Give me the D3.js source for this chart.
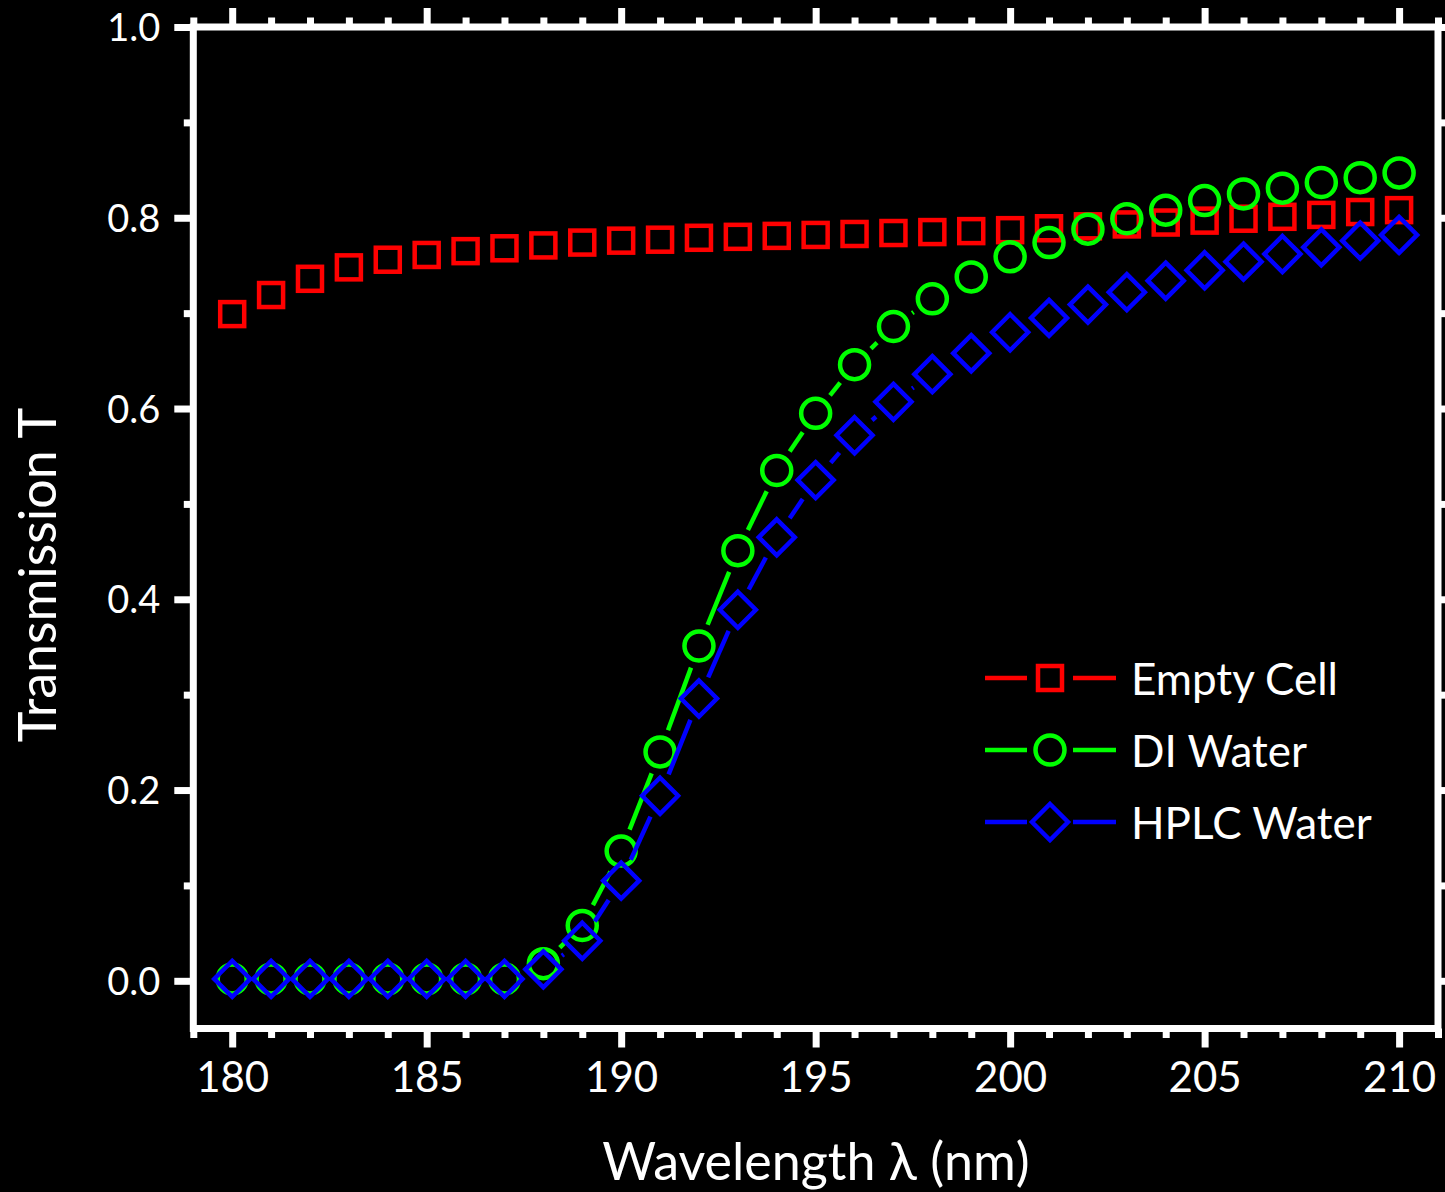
<!DOCTYPE html>
<html>
<head>
<meta charset="utf-8">
<script src="https://cdn.jsdelivr.net/npm/d3@7"></script>
<style>
  html, body { margin: 0; padding: 0; background: #000; }
  svg { display: block; }
  text { font-family: Lato, "Open Sans", sans-serif; fill: #fff; }
</style>
</head>
<body>
<script>
// Wavelength grid (nm)
const wavelength = d3.range(180, 211);

// Transmission of the empty cuvette
const emptyCell = [0.699, 0.719, 0.736, 0.748, 0.756, 0.761, 0.765, 0.768, 0.771, 0.774,
                   0.776, 0.777, 0.779, 0.780, 0.781, 0.782, 0.783, 0.784, 0.785, 0.786,
                   0.787, 0.789, 0.791, 0.793, 0.795, 0.797, 0.799, 0.801, 0.803, 0.806, 0.808];

// Transmission with deionised water
const diWater = [0.002, 0.002, 0.002, 0.002, 0.002, 0.002, 0.002, 0.002, 0.018, 0.058,
                 0.136, 0.240, 0.351, 0.451, 0.535, 0.595, 0.646, 0.686, 0.715, 0.738,
                 0.759, 0.774, 0.788, 0.799, 0.808, 0.818, 0.825, 0.831, 0.837, 0.842, 0.847];

// Transmission with HPLC-grade water
const hplcWater = [0.002, 0.002, 0.002, 0.002, 0.002, 0.002, 0.002, 0.002, 0.012, 0.042,
                   0.105, 0.194, 0.296, 0.389, 0.465, 0.525, 0.572, 0.607, 0.636, 0.658,
                   0.680, 0.695, 0.709, 0.722, 0.734, 0.745, 0.754, 0.762, 0.769, 0.776, 0.782];

const seriesNames = ["Empty Cell", "DI Water", "HPLC Water"];
const seriesColors = ["#ff0000", "#00ff00", "#0000ff"];
const seriesShapes = ["square", "circle", "diamond"];
const seriesValues = [emptyCell, diWater, hplcWater];

const xMajorTicks = [180, 185, 190, 195, 200, 205, 210];
const yMajorTicks = [0.0, 0.2, 0.4, 0.6, 0.8, 1.0];

const W = 1445, H = 1192;
const frame = { left: 193.3, right: 1438, top: 27, bottom: 1028.5 };

const svg = d3.select("body").append("svg").attr("width", W).attr("height", H);
svg.append("rect").attr("width", W).attr("height", H).attr("fill", "#000");

const x = d3.scaleLinear().domain([179, 211]).range([frame.left, frame.right]);
const y = d3.scaleLinear().domain([-0.05, 1.0]).range([frame.bottom, frame.top]);

const tickW = 7;
const majorLen = 19, minorLen = 9.5;

// Axes: outward ticks on all four sides
const xMinor = d3.range(179, 212).filter(v => !xMajorTicks.includes(v));
const yMinor = d3.range(1, 10, 2).map(v => v / 10);

function addAxis(axisFn, scale, ticks, len, transform, labels, cls) {
  const g = svg.append("g").attr("class", cls).attr("transform", transform)
    .call(axisFn(scale).tickValues(ticks).tickSize(len).tickSizeOuter(0)
      .tickPadding(labels ? 12 : 0)
      .tickFormat(labels ? labels : () => ""));
  g.select(".domain").remove();
  g.selectAll(".tick line").attr("stroke", "#fff").attr("stroke-width", tickW);
  return g;
}

const fmtY = d3.format(".1f");
// bottom
const gxb = addAxis(d3.axisBottom, x, xMajorTicks, majorLen, `translate(0,${frame.bottom})`, d => d, "xb");
addAxis(d3.axisBottom, x, xMinor, minorLen, `translate(0,${frame.bottom})`, null, "xbm");
// top
addAxis(d3.axisTop, x, xMajorTicks, majorLen, `translate(0,${frame.top})`, null, "xt");
addAxis(d3.axisTop, x, xMinor, minorLen, `translate(0,${frame.top})`, null, "xtm");
// left
const gyl = addAxis(d3.axisLeft, y, yMajorTicks, majorLen, `translate(${frame.left},0)`, fmtY, "yl");
addAxis(d3.axisLeft, y, yMinor, minorLen, `translate(${frame.left},0)`, null, "ylm");
// right
addAxis(d3.axisRight, y, yMajorTicks, majorLen, `translate(${frame.right},0)`, null, "yr");
addAxis(d3.axisRight, y, yMinor, minorLen, `translate(${frame.right},0)`, null, "yrm");

gxb.selectAll(".tick text").attr("font-size", 42).attr("fill", "#fff")
  .attr("font-family", "Lato, sans-serif").attr("dy", "0.72em").attr("y", 33);
gyl.selectAll(".tick text").attr("font-size", 38).attr("fill", "#fff")
  .attr("font-family", "Lato, sans-serif").attr("x", -33).attr("dy", "0.36em");

// Frame
svg.append("rect")
  .attr("x", frame.left).attr("y", frame.top)
  .attr("width", frame.right - frame.left).attr("height", frame.bottom - frame.top)
  .attr("fill", "none").attr("stroke", "#fff").attr("stroke-width", tickW);

// Axis titles
svg.append("text").attr("x", 816).attr("y", 1180).attr("text-anchor", "middle")
  .attr("font-size", 52).text("Wavelength \u03bb (nm)");
svg.append("text").attr("transform", "translate(56,575) rotate(-90)").attr("text-anchor", "middle")
  .attr("font-size", 52).text("Transmission T");

// Marker drawing
const markerStroke = 4.5;
function drawMarker(g, shape, cx, cy, color) {
  if (shape === "square") {
    g.append("rect").attr("x", cx - 12).attr("y", cy - 12).attr("width", 24).attr("height", 24)
      .attr("fill", "none").attr("stroke", color).attr("stroke-width", markerStroke);
  } else if (shape === "circle") {
    g.append("circle").attr("cx", cx).attr("cy", cy).attr("r", 14.5)
      .attr("fill", "none").attr("stroke", color).attr("stroke-width", markerStroke);
  } else {
    const r = 18;
    g.append("path").attr("d", `M${cx},${cy - r}L${cx + r},${cy}L${cx},${cy + r}L${cx - r},${cy}Z`)
      .attr("fill", "none").attr("stroke", color).attr("stroke-width", markerStroke)
      .attr("stroke-linejoin", "miter");
  }
}

// Connecting lines are broken around each marker
const gap = 23;
function gappedSegments(pts) {
  const segs = [];
  for (let i = 0; i < pts.length - 1; i++) {
    const [x0, y0] = pts[i], [x1, y1] = pts[i + 1];
    const dx = x1 - x0, dy = y1 - y0, d = Math.hypot(dx, dy);
    if (d <= 2 * gap) continue;
    const ux = dx / d, uy = dy / d;
    segs.push([[x0 + ux * gap, y0 + uy * gap], [x1 - ux * gap, y1 - uy * gap]]);
  }
  return segs;
}

const plot = svg.append("g");
seriesValues.forEach((vals, si) => {
  const color = seriesColors[si];
  const pts = wavelength.map((w, i) => [x(w), y(vals[i])]);
  const g = plot.append("g");
  g.selectAll("line").data(gappedSegments(pts)).join("line")
    .attr("x1", d => d[0][0]).attr("y1", d => d[0][1])
    .attr("x2", d => d[1][0]).attr("y2", d => d[1][1])
    .attr("stroke", color).attr("stroke-width", 4.5);
  pts.forEach(p => drawMarker(g, seriesShapes[si], p[0], p[1], color));
});

// Legend
const legend = svg.append("g");
const rowY = [678, 750, 822];
seriesNames.forEach((name, i) => {
  const color = seriesColors[i];
  const g = legend.append("g");
  g.append("line").attr("x1", 985).attr("x2", 1027).attr("y1", rowY[i]).attr("y2", rowY[i])
    .attr("stroke", color).attr("stroke-width", 4.5);
  g.append("line").attr("x1", 1073).attr("x2", 1116).attr("y1", rowY[i]).attr("y2", rowY[i])
    .attr("stroke", color).attr("stroke-width", 4.5);
  drawMarker(g, seriesShapes[i], 1050, rowY[i], color);
  g.append("text").attr("x", 1131).attr("y", rowY[i] + 17).attr("font-size", 44).text(name);
});
</script>
</body>
</html>
